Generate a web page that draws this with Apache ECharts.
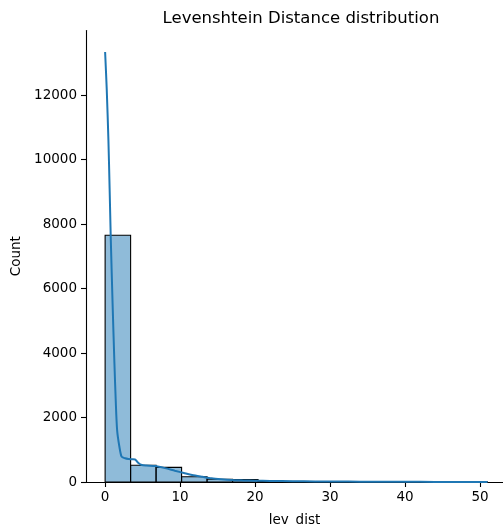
<!DOCTYPE html>
<html>
<head>
<meta charset="utf-8">
<script src="https://cdn.jsdelivr.net/npm/echarts@6/dist/echarts.min.js"></script>
<style>html,body{margin:0;padding:0;background:#fff}#c{width:503px;height:524px}</style>
</head>
<body>
<div id="c"></div>
<script>
var binEdges = [0, 3.4, 6.8, 10.2, 13.6, 17, 20.4, 23.8, 27.2, 30.6, 34, 37.4, 40.8, 44.2, 47.6, 51];
var counts = [7650, 520, 455, 165, 85, 75, 25, 15, 10, 8, 4, 2, 1, 1, 2];
var kdeX = [0, 0.22, 0.44, 0.6, 0.76, 1.0, 1.24, 1.42, 1.6, 1.9, 2.2, 2.67, 3.1, 3.6, 4.0, 4.4, 4.9, 5.5, 6.67, 8, 9.3, 10.5, 11.6, 13, 14.2, 15.5, 16.9, 18.5, 20, 22, 25, 28, 31, 34, 38, 42, 46, 51];
var kdeY = [13333, 12150, 10600, 9100, 7500, 5500, 3690, 2500, 1610, 1100, 785, 735, 713, 705, 700, 600, 527, 510, 496, 430, 350, 280, 217, 160, 114, 85, 62, 50, 40, 32, 24, 18, 14, 10, 6, 4, 2, 1];
var xTicks = [0, 10, 20, 30, 40, 50];
var yTicks = [0, 2000, 4000, 6000, 8000, 10000, 12000];

var histData = counts.map(function (c, i) { return [binEdges[i], binEdges[i + 1], c]; });
var kdeData = kdeX.map(function (x, i) { return [x, kdeY[i]]; });

var font = 'DejaVu Sans';
var plain = function (v) { return String(v); };
var chart = echarts.init(document.getElementById('c'), null, {renderer: 'canvas'});
chart.setOption({
  animation: false,
  backgroundColor: '#fff',
  title: {
    text: 'Levenshtein Distance distribution',
    left: 296, top: 5, textAlign: 'center',
    textStyle: {fontFamily: font, fontSize: 16.5, fontWeight: 'normal', color: '#000'}
  },
  grid: {left: 86, right: 0, top: 30.5, bottom: 42, containLabel: false, outerBoundsMode: 'none'},
  xAxis: {
    type: 'value', min: -2.55, max: 53.07,
    name: 'lev_dist', nameLocation: 'middle', nameGap: 31,
    nameTextStyle: {fontFamily: font, fontSize: 13.5, color: '#000'},
    splitLine: {show: false},
    axisLine: {show: true, onZero: false, lineStyle: {color: '#000', width: 1.1}},
    axisTick: {show: true, length: 5, lineStyle: {color: '#000', width: 1.1}, customValues: xTicks},
    axisLabel: {fontFamily: font, fontSize: 13.5, color: '#000', margin: 8, customValues: xTicks, formatter: plain}
  },
  yAxis: {
    type: 'value', min: 0, max: 14000,
    name: 'Count', nameLocation: 'middle', nameGap: 63, nameRotate: 90,
    nameTextStyle: {fontFamily: font, fontSize: 13.5, color: '#000'},
    splitLine: {show: false},
    axisLine: {show: true, onZero: false, lineStyle: {color: '#000', width: 1.1}},
    axisTick: {show: true, length: 5, lineStyle: {color: '#000', width: 1.1}, customValues: yTicks},
    axisLabel: {fontFamily: font, fontSize: 13.5, color: '#000', margin: 9, customValues: yTicks, formatter: plain}
  },
  series: [
    {
      type: 'custom',
      data: histData,
      encode: {x: [0, 1], y: 2},
      renderItem: function (params, api) {
        var p0 = api.coord([api.value(0), api.value(2)]);
        var p1 = api.coord([api.value(1), 0]);
        return {
          type: 'rect',
          shape: {x: p0[0], y: p0[1], width: p1[0] - p0[0], height: p1[1] - p0[1]},
          style: {fill: 'rgba(31,119,180,0.5)', stroke: '#000', lineWidth: 1.1}
        };
      },
      z: 2
    },
    {
      type: 'line',
      data: kdeData,
      showSymbol: false,
      smooth: 0.25,
      lineStyle: {color: '#1f77b4', width: 2},
      z: 3
    }
  ]
});
</script>
</body>
</html>
